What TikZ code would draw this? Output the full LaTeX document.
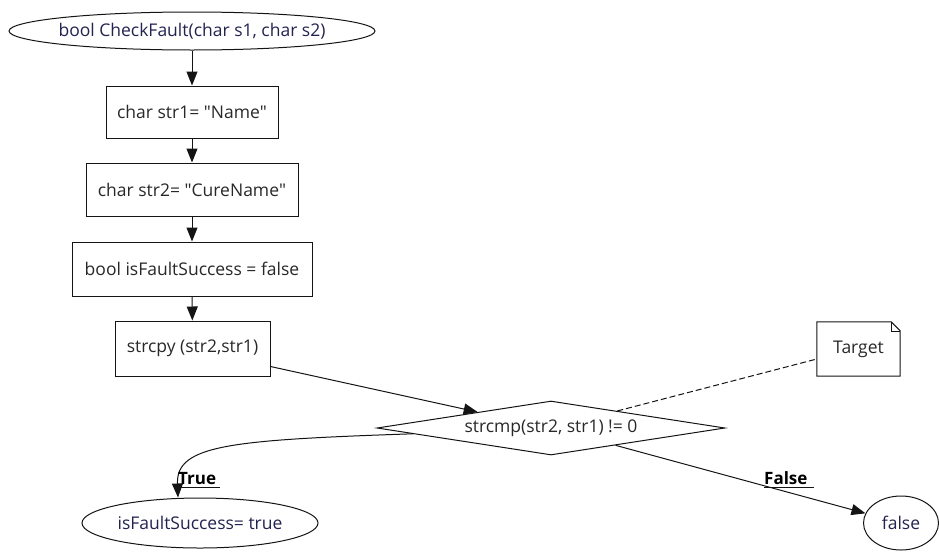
\documentclass[tikz,border=0pt]{standalone}
\usepackage{fontspec}
\setmainfont{Open Sans}
\usetikzlibrary{shapes.geometric,arrows.meta,calc}
\definecolor{inkline}{RGB}{20,20,20}
\definecolor{inknavy}{RGB}{35,35,80}
\definecolor{inkgray}{RGB}{40,40,40}

\begin{document}
\begin{tikzpicture}[x=1pt,y=-1pt,
  flowbox/.style={draw=inkline,line width=1pt,rectangle,inner sep=0pt,text=inkgray,font=\fontsize{17.5}{21}\selectfont},
  term/.style={draw=inkline,line width=1pt,ellipse,inner sep=0pt,text=inknavy,font=\fontsize{17.5}{21}\selectfont},
  test/.style={draw=inkline,line width=1pt,diamond,aspect=6.4,inner sep=0pt,minimum width=348pt,minimum height=54pt,text=inkgray,font=\fontsize{17.5}{21}\selectfont},
  flow/.style={draw=inkline,line width=1pt,-{Triangle[length=14pt,width=11pt]}},
  branch/.style={inner xsep=0pt,inner ysep=2pt,text=black,font=\bfseries\fontsize{17}{20}\selectfont}
]
\path[use as bounding box] (0,0) rectangle (939,552);

% main column
\node[term,inner xsep=-45pt,inner ysep=-4pt,minimum width=366pt,minimum height=38pt] (start) at (192,31) {bool CheckFault(char s1, char s2)};
\node[flowbox,minimum width=172pt,minimum height=52pt] (str1) at (192,112) {char str1= \textquotedbl Name\textquotedbl};
\node[flowbox,minimum width=212pt,minimum height=53pt] (str2) at (192,189.5) {char str2= \textquotedbl CureName\textquotedbl};
\node[flowbox,minimum width=240pt,minimum height=54pt] (flag) at (192,269) {bool isFaultSuccess = false};
\node[flowbox,minimum width=155pt,minimum height=55pt] (cpy) at (192.5,348.5) {strcpy (str2,str1)};

% decision and results
\node[test] (cmp) at (551,428) {strcmp(str2, str1) != 0};
\node[term,minimum width=236pt,minimum height=50pt] (yes) at (200,523) {isFaultSuccess= true};
\node[term,minimum width=75pt,minimum height=54pt] (no) at (901,523) {false};

% note
\node[inner sep=0pt,minimum width=83pt,minimum height=54pt,text=inkgray,font=\fontsize{17.5}{21}\selectfont] (tgt) at (858.5,349) {Target};
\draw[draw=inkline,line width=1pt] (tgt.north west) -- ([xshift=-9pt]tgt.north east) -- ([yshift=-9pt]tgt.north east) -- (tgt.south east) -- (tgt.south west) -- cycle;
\draw[draw=inkline,line width=0.6pt] ([xshift=-9pt]tgt.north east) -- ([xshift=-9pt,yshift=-9pt]tgt.north east) -- ([yshift=-9pt]tgt.north east);

\draw[flow] (start) -- (str1);
\draw[flow] (str1) -- (str2);
\draw[flow] (str2) -- (flag);
\draw[flow] (flag) -- (cpy);
\draw[flow] ([yshift=10pt]cpy.south east) -- ($(cmp.west)!0.58!(cmp.north)$);
\draw[draw=inkline,line width=1pt,dash pattern=on 6pt off 3pt] ($(cmp.north)!0.38!(cmp.east)$) -- ([yshift=-10pt]tgt.west);

\draw[flow] ($(cmp.west)!0.21!(cmp.south)$) .. controls (230,440) and (176,445) .. ([xshift=-22pt]yes.north);
\draw[flow] ($(cmp.east)!0.63!(cmp.south)$) -- (no);

% branch labels
\node[branch,anchor=south west] (tlab) at (178,487) {True};
\draw[draw=inkline,line width=1pt] (tlab.south west) -- ([xshift=4pt]tlab.south east);
\node[branch,anchor=south west] (flab) at (764,487) {False};
\draw[draw=inkline,line width=1pt] (flab.south west) -- ([xshift=6pt]flab.south east);
\end{tikzpicture}
\end{document}
